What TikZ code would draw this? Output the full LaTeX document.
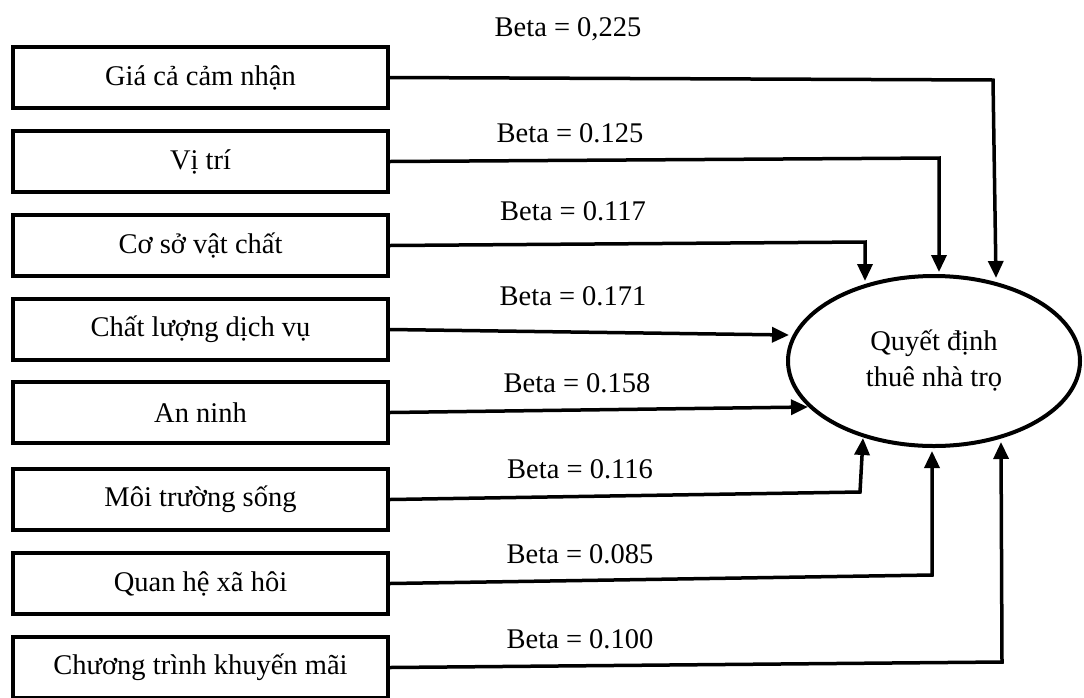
\documentclass[tikz,border=0pt]{standalone}
\usepackage{fontspec}
\setmainfont{Liberation Serif}
\usetikzlibrary{arrows.meta,shapes.geometric}
\begin{document}
\begin{tikzpicture}[x=1pt,y=-1pt,
  every node/.style={font=\fontsize{28.5}{36}\selectfont},
  factor/.style={draw,line width=4pt,minimum width=375pt,minimum height=61pt,inner sep=0pt},
  outcome/.style={draw,ellipse,line width=4pt,minimum width=292pt,minimum height=170pt,inner sep=0pt,align=center},
  conn/.style={line width=3.5pt,-{Triangle[width=15pt,length=17pt]}},
  beta/.style={inner sep=0pt}]
\useasboundingbox (0,0) rectangle (1084,697);
\clip (0,0) rectangle (1084,697);
% factor boxes
\node[factor] (b1) at (200.5,77.5) {Giá cả cảm nhận};
\node[factor] (b2) at (200.5,161.5) {Vị trí};
\node[factor] (b3) at (200.5,245.5) {Cơ sở vật chất};
\node[factor] (b4) at (200.5,329.5) {Chất lượng dịch vụ};
\node[factor] (b5) at (200.5,412.5) {An ninh};
\node[factor] (b6) at (200.5,499.5) {Môi trường sống};
\node[factor] (b7) at (200.5,583.5) {Quan hệ xã hôi};
\node[factor] (b8) at (200.5,667.5) {Chương trình khuyến mãi};
% outcome
\node[outcome] (e) at (934,361) {Quyết định\\thuê nhà trọ};
% corners and tips
\coordinate (k1) at (993,80);
\coordinate (t1) at (996,278);
\coordinate (k2) at (939,158);
\coordinate (t2) at (939,272);
\coordinate (k3) at (865,242);
\coordinate (t3) at (865,281);
\coordinate (t4) at (789,335);
\coordinate (t5) at (808,407);
\coordinate (k6) at (860,492);
\coordinate (t6) at (863,438);
\coordinate (k7) at (932,575);
\coordinate (t7) at (932,451);
\coordinate (k8) at (1002,662);
\coordinate (t8) at (1001,442);
% connectors
\draw[conn] (b1.east) -- (k1) -- (t1);
\draw[conn] (b2.east) -- (k2) -- (t2);
\draw[conn] (b3.east) -- (k3) -- (t3);
\draw[conn] (b4.east) -- (t4);
\draw[conn] (b5.east) -- (t5);
\draw[conn] (b6.east) -- (k6) -- (t6);
\draw[conn] (b7.east) -- (k7) -- (t7);
\draw[conn] (b8.east) -- (k8) -- (t8);
% labels
\node[beta] (l1) at (568,29) {Beta = 0,225};
\node[beta] (l2) at (570,133) {Beta = 0.125};
\node[beta] (l3) at (573,211) {Beta = 0.117};
\node[beta] (l4) at (573,296) {Beta = 0.171};
\node[beta] (l5) at (577,383) {Beta = 0.158};
\node[beta] (l6) at (580,469) {Beta = 0.116};
\node[beta] (l7) at (580,554) {Beta = 0.085};
\node[beta] (l8) at (580,639) {Beta = 0.100};
\end{tikzpicture}
\end{document}
